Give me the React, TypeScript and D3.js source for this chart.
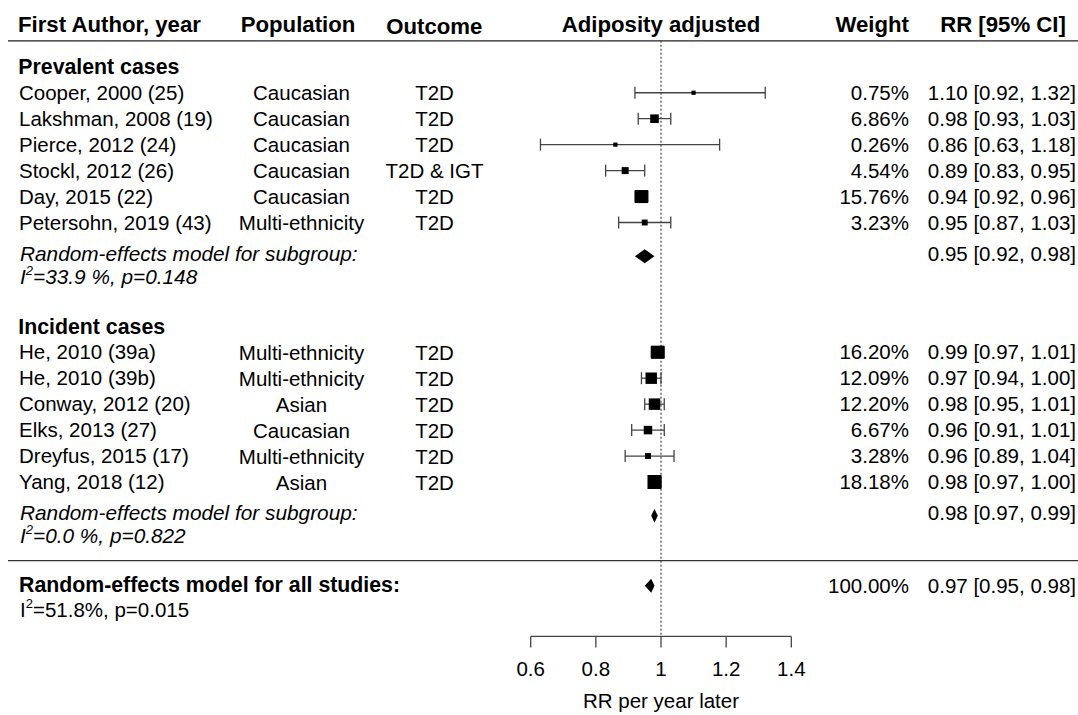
import React from 'react';
import * as d3 from 'd3';

// Prevalent cases
const prevalentAuthors = ['Cooper, 2000 (25)', 'Lakshman, 2008 (19)', 'Pierce, 2012 (24)', 'Stockl, 2012 (26)', 'Day, 2015 (22)', 'Petersohn, 2019 (43)'];
const prevalentPopulation = ['Caucasian', 'Caucasian', 'Caucasian', 'Caucasian', 'Caucasian', 'Multi-ethnicity'];
const prevalentOutcome = ['T2D', 'T2D', 'T2D', 'T2D & IGT', 'T2D', 'T2D'];
const prevalentWeight = [0.75, 6.86, 0.26, 4.54, 15.76, 3.23];
const prevalentRR = [1.10, 0.98, 0.86, 0.89, 0.94, 0.95];
const prevalentLower = [0.92, 0.93, 0.63, 0.83, 0.92, 0.87];
const prevalentUpper = [1.32, 1.03, 1.18, 0.95, 0.96, 1.03];

// Incident cases
const incidentAuthors = ['He, 2010 (39a)', 'He, 2010 (39b)', 'Conway, 2012 (20)', 'Elks, 2013 (27)', 'Dreyfus, 2015 (17)', 'Yang, 2018 (12)'];
const incidentPopulation = ['Multi-ethnicity', 'Multi-ethnicity', 'Asian', 'Caucasian', 'Multi-ethnicity', 'Asian'];
const incidentOutcome = ['T2D', 'T2D', 'T2D', 'T2D', 'T2D', 'T2D'];
const incidentWeight = [16.20, 12.09, 12.20, 6.67, 3.28, 18.18];
const incidentRR = [0.99, 0.97, 0.98, 0.96, 0.96, 0.98];
const incidentLower = [0.97, 0.94, 0.95, 0.91, 0.89, 0.97];
const incidentUpper = [1.01, 1.00, 1.01, 1.01, 1.04, 1.00];

// pooled estimates: [prevalent, incident, overall]
const pooledRR = [0.95, 0.98, 0.97];
const pooledLower = [0.92, 0.97, 0.95];
const pooledUpper = [0.98, 0.99, 0.98];
const pooledI2 = ['33.9', '0.0', '51.8'];
const pooledP = ['0.148', '0.822', '0.015'];

const xTicks = [0.6, 0.8, 1, 1.2, 1.4];

const FONT = '"Liberation Sans", Arial, Helvetica, sans-serif';
const W = 1078;
const H = 715;

const f2 = d3.format('.2f');
const ciText = (e: number, l: number, u: number) => `${f2(e)} [${f2(l)}, ${f2(u)}]`;

export default function App() {
  const x = d3.scaleLinear().domain([0.6, 1.4]).range([530.7, 791.3]);
  const y = d3.scaleLinear().domain([0, 20]).range([66.8, 585.8]);
  const boxSize = d3.scaleSqrt().domain([0, 18.18]).range([0, 14]);

  const axisY = y(21.95);
  const headerLineY = y(-1);

  const colAuthor = 19;
  const colPop = 301.5;
  const colOutcome = 434.5;
  const colWeight = 909;
  const colRR = 1076;

  const groups = [
    {
      title: 'Prevalent cases', start: 0,
      authors: prevalentAuthors, pop: prevalentPopulation, out: prevalentOutcome,
      w: prevalentWeight, rr: prevalentRR, lo: prevalentLower, hi: prevalentUpper,
    },
    {
      title: 'Incident cases', start: 10,
      authors: incidentAuthors, pop: incidentPopulation, out: incidentOutcome,
      w: incidentWeight, rr: incidentRR, lo: incidentLower, hi: incidentUpper,
    },
  ];

  const diamond = (k: number, e: number, l: number, u: number, h = 7) => {
    const cy = y(k);
    return `M${x(l)},${cy} L${x(e)},${cy - h} L${x(u)},${cy} L${x(e)},${cy + h} Z`;
  };

  return (
    <svg width={W} height={H} style={{ position: 'absolute', left: 0, top: 0, background: '#fff' }}
      fontFamily={FONT}>
      <rect width={W} height={H} fill="#fff" />

      {/* header */}
      <g fontWeight="bold" fontSize={22.2} fill="#000">
        <text x={colAuthor - 1} y={headerLineY - 9}>First Author, year</text>
        <text x={298} y={headerLineY - 9} textAnchor="middle">Population</text>
        <text x={434.3} y={headerLineY - 6.5} textAnchor="middle">Outcome</text>
        <text x={x(1)} y={headerLineY - 9} textAnchor="middle">Adiposity adjusted</text>
        <text x={colWeight} y={headerLineY - 9} textAnchor="end">Weight</text>
        <text x={1003} y={headerLineY - 9} textAnchor="middle">RR [95% CI]</text>
      </g>
      <line x1={8} x2={W} y1={headerLineY} y2={headerLineY} stroke="#222" strokeWidth={1.4} />

      {/* reference line */}
      <line x1={x(1)} x2={x(1)} y1={headerLineY} y2={axisY} stroke="#333" strokeWidth={1.1} strokeDasharray="2,2" />

      {groups.map((g, gi) => (
        <g key={g.title}>
          <text x={colAuthor - 0.7} y={y(g.start) + 7.2} fontWeight="bold" fontSize={21.3}>{g.title}</text>
          {g.authors.map((a, i) => {
            const k = g.start + 1 + i;
            const cy = y(k);
            const s = Math.max(4.2, boxSize(g.w[i]));
            return (
              <g key={a}>
                <text x={colAuthor} y={cy + 7} fontSize={20.5}>{a}</text>
                <text x={colPop} y={cy + 7.5} fontSize={20.5} textAnchor="middle">{g.pop[i]}</text>
                <text x={colOutcome} y={cy + 7.5} fontSize={20.5} textAnchor="middle">{g.out[i]}</text>
                <text x={colWeight} y={cy + 7} fontSize={20.5} textAnchor="end">{f2(g.w[i])}%</text>
                <text x={colRR} y={cy + 7} fontSize={20.5} textAnchor="end">{ciText(g.rr[i], g.lo[i], g.hi[i])}</text>
                <g stroke="#444" strokeWidth={1.3}>
                  <line x1={x(g.lo[i])} x2={x(g.hi[i])} y1={cy} y2={cy} />
                  <line x1={x(g.lo[i])} x2={x(g.lo[i])} y1={cy - 6} y2={cy + 6} />
                  <line x1={x(g.hi[i])} x2={x(g.hi[i])} y1={cy - 6} y2={cy + 6} />
                </g>
                <rect x={x(g.rr[i]) - s / 2} y={cy - s / 2} width={s} height={s} fill="#000" />
              </g>
            );
          })}
          {/* subgroup pooled */}
          <text x={colAuthor + 1} y={y(g.start + 7.2) + 7} fontSize={20.8} fontStyle="italic">
            Random-effects model for subgroup:
          </text>
          <text x={colAuthor + 1} y={y(g.start + 7.2) + 30} fontSize={20.8} fontStyle="italic">
            I<tspan dy={-9} fontSize={13}>2</tspan><tspan dy={9}>={pooledI2[gi]} %, p={pooledP[gi]}</tspan>
          </text>
          <path d={diamond(g.start + 7.3, pooledRR[gi], pooledLower[gi], pooledUpper[gi])} fill="#000" />
          <text x={colRR} y={y(g.start + 7.2) + 7} fontSize={20.5} textAnchor="end">
            {ciText(pooledRR[gi], pooledLower[gi], pooledUpper[gi])}
          </text>
        </g>
      ))}

      {/* separator */}
      <line x1={8} x2={W} y1={y(19.03)} y2={y(19.03)} stroke="#333" strokeWidth={1.4} />

      {/* overall */}
      <text x={colAuthor} y={y(20) + 6.5} fontWeight="bold" fontSize={21.3}>Random-effects model for all studies:</text>
      <text x={colAuthor + 1} y={y(20) + 31.5} fontSize={20.5}>
        I<tspan dy={-9} fontSize={13}>2</tspan><tspan dy={9}>={pooledI2[2]}%, p={pooledP[2]}</tspan>
      </text>
      <path d={diamond(20, pooledRR[2], pooledLower[2], pooledUpper[2])} fill="#000" />
      <text x={colWeight} y={y(20) + 7} fontSize={20.5} textAnchor="end">100.00%</text>
      <text x={colRR} y={y(20) + 7} fontSize={20.5} textAnchor="end">
        {ciText(pooledRR[2], pooledLower[2], pooledUpper[2])}
      </text>

      {/* axis */}
      <g stroke="#444" strokeWidth={1.3}>
        <line x1={x(0.6)} x2={x(1.4)} y1={axisY} y2={axisY} />
        {xTicks.map(t => (
          <line key={t} x1={x(t)} x2={x(t)} y1={axisY} y2={axisY + 11} />
        ))}
      </g>
      {xTicks.map(t => (
        <text key={t} x={x(t)} y={axisY + 40} fontSize={20.5} textAnchor="middle">{d3.format('~g')(t)}</text>
      ))}
      <text x={x(1)} y={axisY + 72} fontSize={20.5} textAnchor="middle">RR per year later</text>
    </svg>
  );
}
